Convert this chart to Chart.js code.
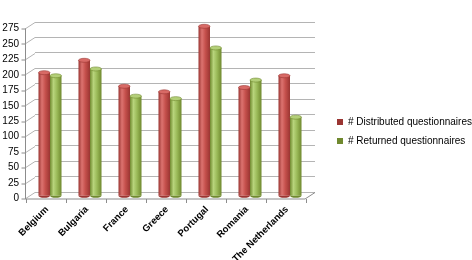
<!DOCTYPE html>
<html lang="en">
<head>
  <meta charset="UTF-8">
  <title>Questionnaires</title>
  <style>
    body { margin: 0; background: #fff; }
    #wrap { width: 472px; height: 260px; }
  </style>
</head>
<body>
  <div id="wrap"><canvas id="chart"></canvas></div>

  <script src="https://cdn.jsdelivr.net/npm/chart.js"></script>
  <script>
    const countries = ['Belgium', 'Bulgaria', 'France', 'Greece', 'Portugal', 'Romania', 'The Netherlands'];
    const distributed = [200, 220, 178, 169, 275, 176, 195];
    const returned = [195, 206, 162, 158, 240, 188, 128];
    const yMax = 275;
    const yStep = 25;

    // 3D look: back wall is the chart area, front plane shifted by this
    const depthX = 10, depthY = 6.5;
    const barShiftX = -5, barShiftY = 4.3;
    const catPct = 0.575;

    const palettes = [
      { dark: '#9a3532', mid: '#c5504c', light: '#dc7370', top: '#d86a66' },
      { dark: '#70892f', mid: '#9bbb59', light: '#b8d47c', top: '#b3cf78' }
    ];

    function cylinderFill(c) {
      const p = palettes[c.datasetIndex];
      const chart = c.chart;
      const xs = chart.scales && chart.scales.x;
      if (!xs || !chart.chartArea || c.dataIndex === undefined) return p.mid;
      const cw = xs.width / countries.length * catPct;
      const bw = cw / 2;
      const left = xs.getPixelForValue(c.dataIndex) - cw / 2 + c.datasetIndex * bw;
      const g = chart.ctx.createLinearGradient(left, 0, left + bw, 0);
      g.addColorStop(0, p.dark);
      g.addColorStop(0.3, p.light);
      g.addColorStop(0.6, p.mid);
      g.addColorStop(1, p.dark);
      return g;
    }

    const frame3d = {
      id: 'frame3d',
      beforeDatasetsDraw(chart) {
        const { ctx, chartArea: a, scales: { x, y } } = chart;
        ctx.save();
        ctx.lineWidth = 1;
        // left side wall lines + front y axis ticks
        ctx.strokeStyle = '#b4b4b4';
        for (let v = 0; v <= yMax; v += yStep) {
          const gy = Math.round(y.getPixelForValue(v)) + 0.5;
          ctx.beginPath();
          ctx.moveTo(a.left - depthX, gy + depthY);
          ctx.lineTo(a.left, gy);
          ctx.stroke();
        }
        ctx.strokeStyle = '#8c8c8c';
        const fx = a.left - depthX + 0.5;
        const top = Math.round(y.getPixelForValue(yMax)) + depthY;
        const bot = Math.round(y.getPixelForValue(0)) + depthY + 0.5;
        ctx.beginPath();
        ctx.moveTo(fx, top);
        ctx.lineTo(fx, bot);
        ctx.stroke();
        for (let v = 0; v <= yMax; v += yStep) {
          const gy = Math.round(y.getPixelForValue(v)) + 0.5 + depthY;
          ctx.beginPath();
          ctx.moveTo(fx - 4, gy);
          ctx.lineTo(fx, gy);
          ctx.stroke();
        }
        // front floor edge with category ticks
        const right = a.right - depthX;
        ctx.beginPath();
        ctx.moveTo(fx, bot);
        ctx.lineTo(right, bot);
        ctx.lineTo(a.right, bot - depthY);
        ctx.stroke();
        const step = (a.right - a.left) / countries.length;
        for (let i = 0; i <= countries.length; i++) {
          const tx = Math.round(fx + i * step) + 0.5;
          ctx.beginPath();
          ctx.moveTo(tx, bot);
          ctx.lineTo(tx, bot + 4);
          ctx.stroke();
        }
        ctx.restore();
        ctx.save();
        ctx.translate(barShiftX, barShiftY);
      },
      afterDatasetsDraw(chart) {
        const { ctx } = chart;
        // cylinder caps
        chart.data.datasets.forEach((ds, di) => {
          const p = palettes[di];
          chart.getDatasetMeta(di).data.forEach(bar => {
            const rx = bar.width / 2;
            ctx.beginPath();
            ctx.ellipse(bar.x, bar.base, rx, 2, 0, 0, Math.PI);
            ctx.fillStyle = p.dark;
            ctx.fill();
            ctx.beginPath();
            ctx.ellipse(bar.x, bar.y, rx, 2, 0, 0, Math.PI * 2);
            ctx.fillStyle = p.top;
            ctx.fill();
            ctx.strokeStyle = p.dark;
            ctx.lineWidth = 0.6;
            ctx.stroke();
          });
        });
        ctx.restore();
      }
    };

    new Chart(document.getElementById('chart'), {
      type: 'bar',
      data: {
        labels: countries,
        datasets: [
          { label: '# Distributed questionnaires', data: distributed, backgroundColor: cylinderFill },
          { label: '# Returned questionnaires', data: returned, backgroundColor: cylinderFill }
        ]
      },
      options: {
        responsive: true,
        maintainAspectRatio: false,
        animation: false,
        layout: { padding: { top: 3, left: 0, right: 0, bottom: 0 } },
        datasets: { bar: { categoryPercentage: catPct, barPercentage: 1, borderWidth: 0 } },
        scales: {
          x: {
            grid: { display: false, drawTicks: false },
            border: { display: false },
            ticks: {
              color: '#000',
              font: { family: 'Liberation Sans', size: 9.5, weight: 'bold' },
              minRotation: 45, maxRotation: 45,
              padding: 12,
              labelOffset: -8,
              autoSkip: false
            },
            afterFit(s) { s.height = 68; }
          },
          y: {
            min: 0, max: yMax,
            grid: { color: '#b4b4b4', drawTicks: false },
            border: { display: false },
            ticks: {
              stepSize: yStep,
              color: '#000',
              font: { family: 'Liberation Sans', size: 10 },
              padding: 16,
              labelOffset: 6.5
            },
            afterFit(s) { s.width = 35; }
          },
          yRight: {
            position: 'right',
            display: true,
            grid: { display: false, drawTicks: false },
            border: { display: false },
            ticks: { display: false },
            afterFit(s) { s.width = 13; }
          }
        },
        plugins: {
          legend: {
            position: 'right',
            maxWidth: 144,
            labels: {
              color: '#000',
              font: { family: 'Liberation Sans', size: 10 },
              boxWidth: 6,
              boxHeight: 6,
              padding: 9
            }
          },
          tooltip: { enabled: false }
        }
      },
      plugins: [frame3d]
    });
  </script>
</body>
</html>
